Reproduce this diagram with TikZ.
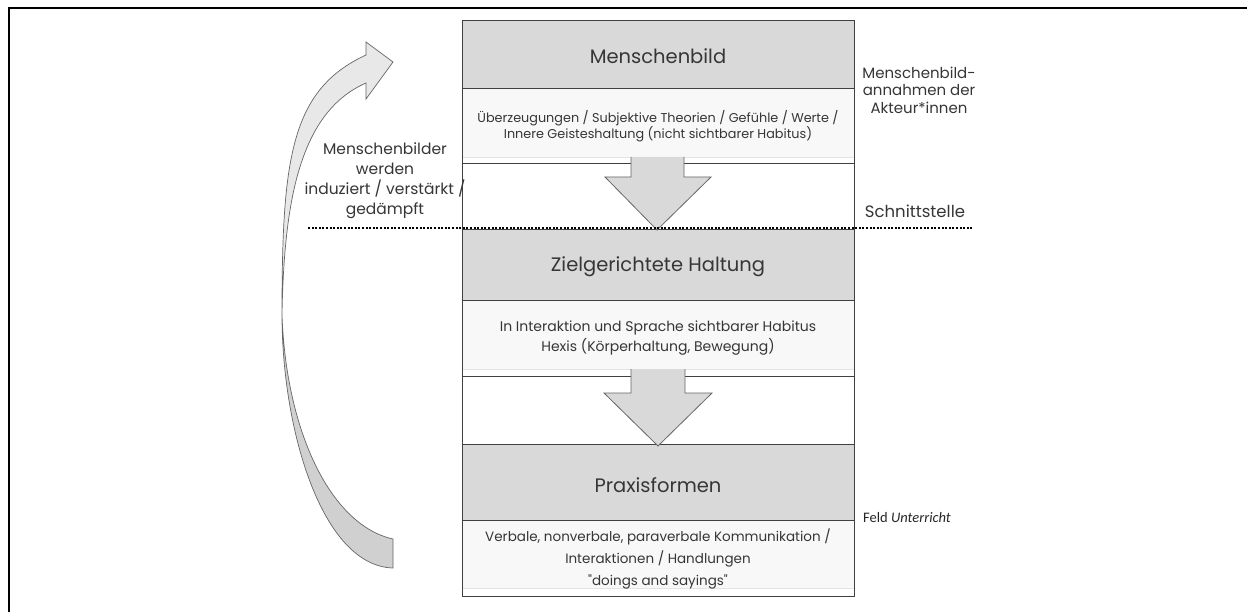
\documentclass[tikz,border=0pt]{standalone}
\usepackage{fontspec}
\setmainfont{Poppins}
\newfontfamily\calib{Carlito}
\definecolor{boxgray}{HTML}{D9D9D9}
\definecolor{boxlight}{HTML}{F8F8F8}
\definecolor{lightedge}{HTML}{E4E4E4}
\definecolor{txt}{HTML}{363636}
\definecolor{coledge}{HTML}{404040}
\definecolor{arrowedge}{HTML}{666666}
\definecolor{curvetop}{HTML}{E8E8E8}
\definecolor{curvebot}{HTML}{D0D0D0}
\begin{document}
\begin{tikzpicture}[x=1pt,y=-1pt,
  hdr/.style={font=\fontsize{19.5}{22}\selectfont, text=txt, inner sep=0pt},
  sub/.style={font=\fontsize{12.8}{15}\selectfont, text=txt, align=center, inner sep=0pt},
  side/.style={font=\fontsize{15.5}{20}\selectfont, text=txt, align=center, inner sep=0pt},
  graybox/.style={fill=boxgray, draw=none, inner sep=0pt},
  lightbox/.style={fill=boxlight, draw=lightedge, line width=0.5pt, inner sep=0pt},
  blockarrow/.style={fill=boxgray},
  blockedge/.style={draw=arrowedge, line width=0.8pt},
  sep/.style={draw=coledge, line width=0.9pt},
  frameline/.style={draw=black, line width=2.4pt},
  curvedge/.style={draw=arrowedge, line width=0.7pt},
]
\useasboundingbox (0,0) rectangle (1247,612);
\fill[white] (0,0) rectangle (1247,612);
% page frame (top and left)
\draw[frameline] (9,612) -- (9,8) -- (1247,8);

% boxes
\node[graybox, minimum width=392pt, minimum height=68pt] (mbbox) at (658,54) {};
\node[lightbox, minimum width=392pt, minimum height=69pt] (mbsub) at (658,122.5) {};
\node[graybox, minimum width=392pt, minimum height=70pt] (zhbox) at (658,265) {};
\node[lightbox, minimum width=392pt, minimum height=69pt] (zhsub) at (658,334.5) {};
\node[graybox, minimum width=392pt, minimum height=75pt] (pfbox) at (658,482.5) {};
\node[lightbox, minimum width=392pt, minimum height=68pt] (pfsub) at (658,554) {};

% separators
\draw[sep] (mbbox.south west) -- (mbbox.south east);
\draw[sep] (462,163) -- (854,163);
\draw[sep] (zhbox.north west) -- (zhbox.north east);
\draw[sep] (zhbox.south west) -- (zhbox.south east);
\draw[sep] (462,376) -- (854,376);
\draw[sep] (pfbox.north west) -- (pfbox.north east);
\draw[sep] (pfbox.south west) -- (pfbox.south east);
\draw[sep] (462,20) rectangle (854,596);

% down arrows
\fill[blockarrow] (631,157) -- (631,177) -- (605,177) -- (657,230) -- (711,177) -- (684,177) -- (684,157) -- cycle;
\draw[blockedge] (631,157) -- (631,177) -- (605,177) -- (657,230) -- (711,177) -- (684,177) -- (684,157);
\fill[blockarrow] (631,369) -- (631,393) -- (604,393) -- (658,446) -- (712,393) -- (685,393) -- (685,369) -- cycle;
\draw[blockedge] (631,369) -- (631,393) -- (604,393) -- (658,446) -- (712,393) -- (685,393) -- (685,369);

% texts in column
\node[hdr] (mbt) at (658,56) {Menschenbild};
\node[sub] (mbs) at (658,126) {Überzeugungen / Subjektive Theorien / Gefühle / Werte /\\Innere Geisteshaltung (nicht sichtbarer Habitus)};
\node[hdr] (zht) at (658,267) {Zielgerichtete Haltung};
\node[sub, font=\fontsize{14}{20}\selectfont] (zhs) at (658,338) {In Interaktion und Sprache sichtbarer Habitus\\Hexis (Körperhaltung, Bewegung)};
\node[hdr] (pft) at (658,485) {Praxisformen};
\node[sub, font=\fontsize{13.5}{22}\selectfont] (pfs) at (658,559) {Verbale, nonverbale, paraverbale Kommunikation /\\Interaktionen / Handlungen\\\textquotedbl doings and sayings\textquotedbl};

% dotted interface line
\draw[line width=2.3pt, dash pattern=on 2pt off 1.6pt] (308,228) -- (973,228);

% side labels
\node[side] (lefttxt) at (385,181) {Menschenbilder\\werden\\induziert / verstärkt /\\gedämpft};
\node[side, font=\fontsize{15}{17.5}\selectfont] (mbann) at (919,90) {Menschenbild-\\annahmen der\\Akteur*innen};
\node[side, font=\fontsize{16.5}{18}\selectfont] (schnitt) at (915,211) {Schnittstelle};
\node[font=\calib\fontsize{14.5}{17}\selectfont, text=black!85, anchor=west, inner sep=0pt] (feld) at (863,518) {Feld \textit{Unterricht}};

% curved arrow: lower ribbon
\filldraw[fill=curvebot, curvedge] (393,539) .. controls (330,525) and (286,430) .. (282,315)
  .. controls (282,430) and (322,566) .. (393,568) -- cycle;
% curved arrow: upper part with head
\filldraw[fill=curvetop, curvedge] (282,315) .. controls (282,160) and (290,90) .. (366,55)
  -- (366,42) -- (393,62) -- (366,99) -- (366,83)
  .. controls (300,112) and (284,200) .. (282,315) -- cycle;
\end{tikzpicture}
\end{document}
